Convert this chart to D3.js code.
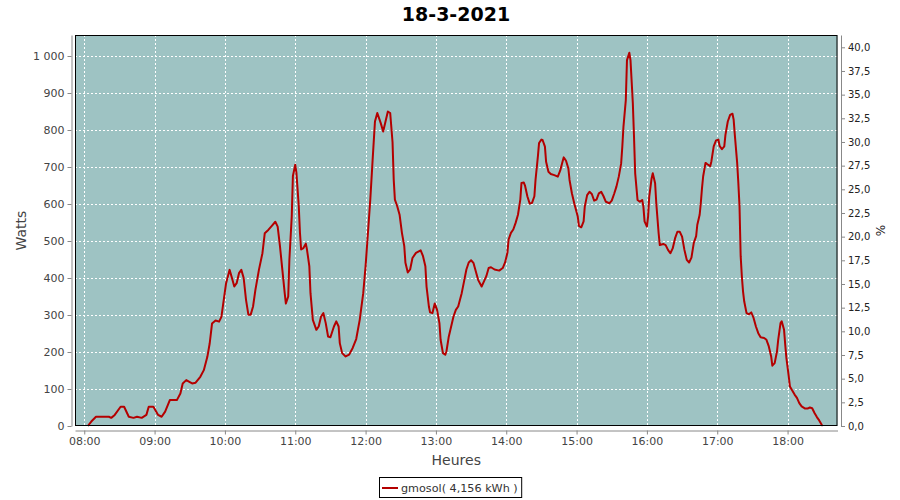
<!DOCTYPE html>
<html><head><meta charset="utf-8">
<script src="https://cdn.jsdelivr.net/npm/d3@7"></script>
<style>body{margin:0;background:#fff}svg{display:block}text{font-family:"DejaVu Sans",sans-serif}</style>
</head><body><svg id="c" width="900" height="500"></svg>
<script>
const title = "18-3-2021";
const seriesName = "gmosol( 4,156 kWh )";
const xLabel = "Heures", yLabel = "Watts", y2Label = "%";
const startHour = 8;
const hourTicks = ["08:00","09:00","10:00","11:00","12:00","13:00","14:00","15:00","16:00","17:00","18:00"];
const wattTicks = [0,100,200,300,400,500,600,700,800,900,1000];
const pctTicks = [0,2.5,5,7.5,10,12.5,15,17.5,20,22.5,25,27.5,30,32.5,35,37.5,40];
// minutes after 08:00
const minutes = [3,6,10,21,23,26,31,34,38,42,45,49,53,55,59,63,66,69,73,79,82,84,87,92,95,99,102,105,107,109,112,115,117,119,121,124,
126,128,130,132,134,136,138,140,142,144,146,149,152,154,157,160,163,165,167,169,171,172,174,175,177,178,180,181,183,184,185,187,189,190,192,193,195,198,200,202,204,206,208,210,213,215,217,218,220,223,226,229,232,235,238,240,242,244,246,248,250,253,255,257,259,261,263,
264,265,267,269,271,273,274,276,278,280,283,287,289,291,292,294,295,297,299,301,303,304,306,308,309,311,313,315,317,319,322,324,326,328,330,332,334,336,339,341,343,345,347,350,354,357,359,361,362,364,366,368,370,372,373,375,376,378,380,382,384,385,387,388,390,
391,393,394,396,398,401,404,406,408,409,411,413,414,416,418,421,422,424,426,427,429,431,433,435,437,439,441,443,445,448,450,452,454,456,458,459,460,462,463,465,466,468,469,470,472,474,476,477,478,480,481,482,484,485,487,488,490,491,494,496,498,500,502,504,506,508,510,512,514,516,
518,520,522,523,525,526,527,528,530,531,534,535,537,539,541,542,544,546,547,549,551,553,554,555,557,558,559,560,561,562,563,565,567,569,571,573,575,577,580,582,584,586,587,589,591,592,594,595,597,598,599,601,602,604,606,608,610,612,615,617,619,621,623,625,627,629,630];
const watts = [0,12,25,25,22,30,52,52,25,22,25,22,30,52,52,30,25,39,70,70,88,115,124,115,117,133,151,187,223,277,285,282,295,341,386,422,
400,377,386,413,422,400,341,301,301,323,368,422,467,521,530,541,552,539,485,422,359,331,350,450,566,676,706,684,594,523,477,481,493,477,432,359,287,260,269,296,305,278,242,240,269,283,269,224,197,188,193,211,235,287,359,432,521,611,719,823,846,818,796,823,850,846,767,
666,612,594,571,522,486,441,415,423,454,468,475,459,432,377,323,307,305,331,314,278,233,197,193,202,242,269,296,314,323,359,391,423,442,448,441,418,395,377,391,405,427,429,423,420,427,442,468,504,522,531,549,571,612,657,658,650,621,601,603,621,666,729,765,774,
773,755,714,687,681,678,674,690,714,726,717,696,665,629,602,566,541,537,553,593,624,633,627,609,612,629,633,621,606,602,609,627,647,674,709,754,809,881,989,1009,989,872,782,683,611,606,611,593,553,539,566,620,669,683,656,602,521,489,492,489,476,467,480,507,525,525,512,476,449,442,
455,495,513,544,571,603,643,675,711,709,702,715,756,772,774,757,748,756,787,823,841,844,828,787,711,657,594,459,404,364,337,305,302,307,292,269,251,240,238,233,215,188,163,170,202,233,278,283,260,220,184,134,107,96,85,76,62,53,47,47,50,48,35,24,15,4,0];

const svg = d3.select("#c");
const L = 75, R = 837.5, T = 35, B = 426;
const x = d3.scaleLinear().domain([-7.9, 642.6]).range([L, R]);
const y = d3.scaleLinear().domain([0, 1056.8]).range([B, T]);
const y2 = d3.scaleLinear().domain([0, 41.3]).range([B, T]);
const loc = d3.formatLocale({decimal:",", thousands:"\u00a0", grouping:[3], currency:["",""]});
const fW = loc.format(",d"), fP = loc.format(".1f");
const hourMin = hourTicks.map(h => (+h.slice(0,2) - startHour) * 60);

svg.append("text").attr("x", 456).attr("y", 21).attr("text-anchor","middle")
  .attr("font-size", 19).attr("font-weight","bold").attr("fill","#000").text(title);

svg.append("rect").attr("x", L).attr("y", T).attr("width", R-L).attr("height", B-T).attr("fill", "#9ec3c3");

const grid = svg.append("g").attr("stroke","#fff").attr("stroke-width",1).attr("stroke-dasharray","2,2");
grid.selectAll(".v").data(hourMin).join("line")
  .attr("x1", d => Math.round(x(d))+0.5).attr("x2", d => Math.round(x(d))+0.5).attr("y1", T).attr("y2", B);
grid.selectAll(".h").data(wattTicks).join("line")
  .attr("y1", d => Math.round(y(d))+0.5).attr("y2", d => Math.round(y(d))+0.5).attr("x1", L).attr("x2", R);

const pts = minutes.map((m,i) => [m, watts[i]]);
svg.append("path").datum(pts).attr("fill","none").attr("stroke","#b40000").attr("stroke-width",2)
  .attr("stroke-linejoin","round")
  .attr("d", d3.line().x(d => x(d[0])).y(d => y(d[1])));

svg.append("rect").attr("x", L+0.5).attr("y", T+0.5).attr("width", R-L-1).attr("height", B-T-1)
  .attr("fill","none").attr("stroke","#000").attr("stroke-width",1);

function styleAxis(g){
  g.selectAll(".domain").attr("stroke","#888");
  g.selectAll(".tick line").attr("stroke","#888");
  g.selectAll("text").attr("fill","#444").attr("font-size",11).attr("font-family","DejaVu Sans, sans-serif");
}
const ax = svg.append("g").attr("transform", `translate(0,${B+4.5})`)
  .call(d3.axisBottom(x).tickValues(hourMin).tickFormat((d,i) => hourTicks[i]).tickSize(4).tickSizeOuter(0).tickPadding(3));
styleAxis(ax);
const ay = svg.append("g").attr("transform", `translate(${L-3.5},0)`)
  .call(d3.axisLeft(y).tickValues(wattTicks).tickFormat(fW).tickSize(4).tickSizeOuter(0).tickPadding(3));
styleAxis(ay);
const ay2 = svg.append("g").attr("transform", `translate(${R+3.5},0)`)
  .call(d3.axisRight(y2).tickValues(pctTicks).tickFormat(fP).tickSize(4).tickSizeOuter(0).tickPadding(3));
styleAxis(ay2);
ay2.selectAll("text").attr("font-size",10).attr("fill","#222");

svg.append("text").attr("x", (L+R)/2).attr("y", 465).attr("text-anchor","middle")
  .attr("font-size",14).attr("fill","#444").text(xLabel);
svg.append("text").attr("transform", `translate(26,${(T+B)/2}) rotate(-90)`).attr("text-anchor","middle")
  .attr("font-size",14).attr("fill","#444").text(yLabel);
svg.append("text").attr("transform", `translate(885,${(T+B)/2}) rotate(-90)`).attr("text-anchor","middle")
  .attr("font-size",12).attr("fill","#222").text(y2Label);

const lg = svg.append("g");
const lt = lg.append("text").attr("x", 401).attr("y", 492).attr("font-size",11.2).attr("fill","#333").text(seriesName);
const bb = lt.node().getBBox();
lg.insert("rect","text").attr("x", 379.5).attr("y", 477.5).attr("width", bb.x + bb.width + 4 - 379.5).attr("height", 20)
  .attr("fill","#fff").attr("stroke","#000");
lg.append("line").attr("x1", 382).attr("x2", 398).attr("y1", 488).attr("y2", 488).attr("stroke","#b40000").attr("stroke-width",2);
</script></body></html>
